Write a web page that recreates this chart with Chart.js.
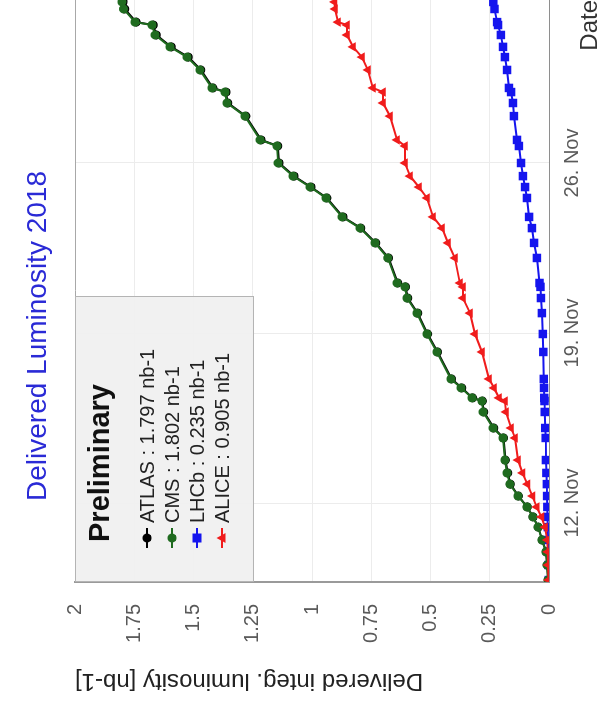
<!DOCTYPE html>
<html>
<head>
<meta charset="utf-8">
<title>Delivered Luminosity 2018</title>
<script src="https://cdn.jsdelivr.net/npm/chart.js@4.4.1/dist/chart.umd.min.js"></script>
<style>
  html, body { margin: 0; padding: 0; background: #fff; overflow: hidden; }
  /* the chart is drawn lying on its side: rotate the whole canvas 90deg counter-clockwise */
  #wrap {
    position: absolute; left: 0; top: 0;
    width: 706px; height: 598px;
    transform-origin: 0 0;
    transform: translateY(706px) rotate(-90deg);
  }
</style>
</head>
<body>
<div id="wrap"><canvas id="chart" width="706" height="598"></canvas></div>
<script>
'use strict';

// Data (x = day of November 2018, 32 = 2 Dec)
const fillDays = [8.83, 9.45, 9.99, 10.48, 11.01, 11.43, 11.84, 12.29, 12.78, 13.24,
  13.77, 14.68, 15.09, 15.75, 16.20, 16.33, 16.74, 17.11, 18.22, 18.96,
  19.82, 20.44, 20.90, 21.06, 22.09, 22.71, 23.32, 23.78, 24.56, 25.01,
  25.46, 26.00, 26.70, 26.95, 27.93, 28.47, 28.92, 29.09, 29.83, 30.36,
  30.78, 31.27, 31.68, 31.80, 32.34, 32.63];

const atlasLumi = [0.003, 0.007, 0.012, 0.029, 0.045, 0.067, 0.092, 0.129, 0.163, 0.174,
  0.184, 0.192, 0.233, 0.275, 0.281, 0.322, 0.368, 0.411, 0.470, 0.512,
  0.554, 0.596, 0.605, 0.638, 0.677, 0.731, 0.794, 0.869, 0.937, 1.004,
  1.076, 1.139, 1.144, 1.215, 1.279, 1.355, 1.363, 1.418, 1.469, 1.522,
  1.594, 1.657, 1.670, 1.742, 1.790, 1.797];

const cmsLumi = [0.004, 0.008, 0.013, 0.030, 0.046, 0.068, 0.093, 0.131, 0.165, 0.177,
  0.186, 0.194, 0.236, 0.278, 0.283, 0.325, 0.371, 0.414, 0.473, 0.515,
  0.557, 0.599, 0.608, 0.641, 0.680, 0.734, 0.797, 0.873, 0.941, 1.008,
  1.080, 1.143, 1.148, 1.219, 1.283, 1.359, 1.367, 1.422, 1.473, 1.527,
  1.599, 1.662, 1.675, 1.747, 1.795, 1.802];

const lhcbLumi = [0.001, 0.002, 0.003, 0.004, 0.005, 0.006, 0.007, 0.008, 0.009, 0.011,
  0.013, 0.014, 0.016, 0.018, 0.019, 0.020, 0.021, 0.022, 0.024, 0.026,
  0.030, 0.034, 0.036, 0.040, 0.051, 0.063, 0.072, 0.084, 0.093, 0.101,
  0.110, 0.118, 0.127, 0.135, 0.148, 0.152, 0.160, 0.169, 0.177, 0.186,
  0.194, 0.203, 0.215, 0.219, 0.230, 0.235];

const aliceLumi = [0.002, 0.004, 0.005, 0.007, 0.017, 0.032, 0.052, 0.070, 0.091, 0.112,
  0.131, 0.143, 0.160, 0.181, 0.186, 0.211, 0.232, 0.253, 0.283, 0.312,
  0.333, 0.363, 0.363, 0.376, 0.397, 0.426, 0.451, 0.489, 0.515, 0.549,
  0.586, 0.608, 0.608, 0.641, 0.671, 0.700, 0.700, 0.743, 0.764, 0.789,
  0.827, 0.852, 0.852, 0.890, 0.903, 0.905];

const experiments = ['ATLAS', 'CMS', 'LHCb', 'ALICE'];
const totals = ['1.797', '1.802', '0.235', '0.905'];

// Axis ticks
const xTickDays = [12, 19, 26];
const xTickLabels = ['12. Nov', '19. Nov', '26. Nov'];
const yTickValues = [0, 0.25, 0.5, 0.75, 1, 1.25, 1.5, 1.75, 2];
const yTickLabels = ['0', '0.25', '0.5', '0.75', '1', '1.25', '1.5', '1.75', '2'];

const FONT = '"Liberation Sans", Arial, Helvetica, sans-serif';
Chart.defaults.font.family = FONT;

const toPoints = (values) => fillDays.map((d, i) => ({ x: d, y: values[i] }));

// Title written beside the plot
const sideTitle = {
  id: 'sideTitle',
  afterDraw(chart) {
    const { ctx } = chart;
    ctx.save();
    ctx.font = '28px ' + FONT;
    ctx.fillStyle = '#2a2ad6';
    ctx.textAlign = 'left';
    ctx.textBaseline = 'middle';
    ctx.fillText('Delivered Luminosity 2018', 205, 38);
    ctx.restore();
  },
};

// Small marker drawing for the legend
function drawMarker(ctx, style, x, y, r, color) {
  ctx.fillStyle = color;
  ctx.beginPath();
  if (style === 'rect') {
    ctx.rect(x - r, y - r, 2 * r, 2 * r);
  } else if (style === 'triangle') {
    ctx.moveTo(x, y - r * 1.2);
    ctx.lineTo(x + r * 1.1, y + r * 0.8);
    ctx.lineTo(x - r * 1.1, y + r * 0.8);
    ctx.closePath();
  } else {
    ctx.arc(x, y, r, 0, Math.PI * 2);
  }
  ctx.fill();
}

// Legend box in the upper-left corner of the plot
const legendBox = {
  id: 'legendBox',
  afterDatasetsDraw(chart) {
    const { ctx, chartArea } = chart;
    const x0 = chartArea.left;
    const y0 = chartArea.top;
    ctx.save();
    ctx.fillStyle = 'rgba(240, 240, 240, 0.92)';
    ctx.fillRect(x0, y0, 285, 178);
    ctx.strokeStyle = '#b4b4b4';
    ctx.lineWidth = 1;
    ctx.strokeRect(x0 + 0.5, y0 + 0.5, 285, 178);

    ctx.fillStyle = '#111';
    ctx.textAlign = 'left';
    ctx.textBaseline = 'middle';
    ctx.font = 'bold 29px ' + FONT;
    ctx.fillText('Preliminary', x0 + 40, y0 + 26);

    ctx.font = '20px ' + FONT;
    chart.data.datasets.forEach((ds, i) => {
      const y = y0 + 72 + i * 25;
      ctx.strokeStyle = ds.borderColor;
      ctx.lineWidth = 2;
      ctx.beginPath();
      ctx.moveTo(x0 + 34, y);
      ctx.lineTo(x0 + 54, y);
      ctx.stroke();
      drawMarker(ctx, ds.pointStyle, x0 + 44, y, 4.5, ds.borderColor);
      ctx.fillStyle = '#222';
      ctx.fillText(experiments[i] + ' : ' + totals[i] + ' nb-1', x0 + 59, y + 1);
    });
    ctx.restore();
  },
};

const colors = ['#000000', '#1f6b1f', '#1515ee', '#f01c1c'];
const styles = ['circle', 'circle', 'rect', 'triangle'];
const radii = [4.5, 4.5, 6, 5.5];
const series = [atlasLumi, cmsLumi, lhcbLumi, aliceLumi];
const layering = [3, 1, 2, 0];

const configuration = {
  type: 'line',
  data: {
    datasets: experiments.map((name, i) => ({
      label: name,
      data: toPoints(series[i]),
      borderColor: colors[i],
      backgroundColor: colors[i],
      pointBackgroundColor: colors[i],
      pointBorderColor: colors[i],
      pointStyle: styles[i],
      pointRadius: radii[i],
      pointBorderWidth: 0,
      borderWidth: 2,
      tension: 0,
      order: layering[i],
    })),
  },
  options: {
    responsive: false,
    animation: false,
    events: [],
    layout: {
      autoPadding: false,
      padding: { top: 75, right: 0, bottom: 0, left: 0 },
    },
    plugins: {
      legend: { display: false },
      tooltip: { enabled: false },
      title: { display: false },
    },
    scales: {
      x: {
        type: 'linear',
        min: 8.75,
        max: 32.71,
        afterFit(scale) { scale.height = 49; },
        afterBuildTicks(scale) { scale.ticks = xTickDays.map((v) => ({ value: v })); },
        grid: { color: '#ececec', drawTicks: false },
        border: { color: '#8e8e8e', width: 1 },
        ticks: {
          padding: 11,
          color: '#5a5a5a',
          font: { size: 20 },
          callback: (v, i) => xTickLabels[i],
        },
        title: {
          display: true,
          text: 'Date',
          align: 'end',
          color: '#333',
          font: { size: 24, lineHeight: 1 },
          padding: { top: 0, bottom: -4 },
        },
      },
      y: {
        min: 0,
        max: 2,
        afterFit(scale) { scale.width = 124; },
        afterBuildTicks(scale) { scale.ticks = yTickValues.map((v) => ({ value: v })); },
        grid: {
          drawTicks: false,
          color: (c) => (c.tick && c.tick.value === 2 ? '#a8a8a8' : '#ececec'),
        },
        border: { color: '#9a9a9a', width: 2 },
        ticks: {
          padding: 22,
          color: '#5a5a5a',
          font: { size: 20 },
          callback: (v, i) => yTickLabels[i],
        },
        title: {
          display: true,
          text: 'Delivered integ. luminosity [nb-1]',
          align: 'end',
          color: '#222',
          font: { size: 24 },
          padding: { top: 11, bottom: 0 },
        },
      },
    },
  },
  plugins: [sideTitle, legendBox],
};

new Chart(document.getElementById('chart'), configuration);
</script>
</body>
</html>
